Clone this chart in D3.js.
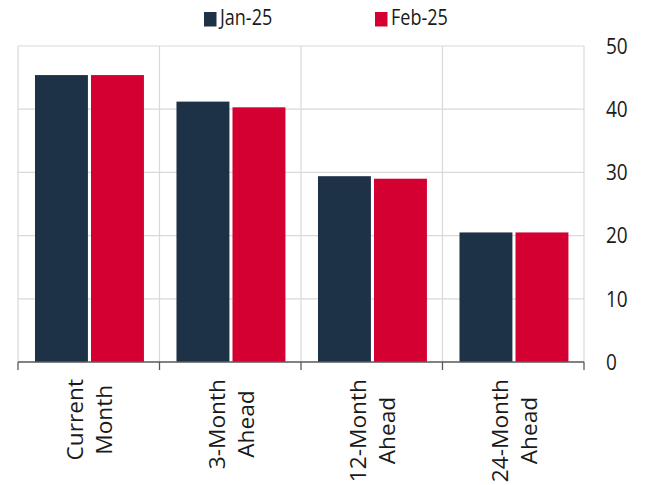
<!DOCTYPE html>
<html>
<head>
<meta charset="utf-8">
<script src="https://cdn.jsdelivr.net/npm/d3@7"></script>
<style>
  body { margin: 0; background: #fff; }
  text { font-family: "Open Sans", sans-serif; fill: #1a1a1a; }
</style>
</head>
<body>
<div id="chart"></div>
<script>
// data
const categories = [["Current", "Month"], ["3-Month", "Ahead"], ["12-Month", "Ahead"], ["24-Month", "Ahead"]];
const seriesNames = ["Jan-25", "Feb-25"];
const jan25 = [45.4, 41.2, 29.4, 20.5];
const feb25 = [45.4, 40.3, 29.0, 20.5];
const yTicks = [0, 10, 20, 30, 40, 50];

const width = 648;
const height = 485;
const plot = {left: 18, right: 584, top: 46, bottom: 362};
const colors = {"Jan-25": "#1e3247", "Feb-25": "#d50032"};

const svg = d3.select("#chart")
              .append("svg")
              .attr("width", width)
              .attr("height", height);

const keys = categories.map(c => c.join(" "));
const x0 = d3.scaleBand().domain(keys).range([plot.left, plot.right]);
const bw = x0.bandwidth();
const x1 = d3.scaleBand().domain(seriesNames).range([bw * 0.12, bw * 0.89]).paddingInner(0.055);
const y = d3.scaleLinear().domain([0, 50]).range([plot.bottom, plot.top]);

// horizontal gridlines
svg.append("g").selectAll("line").data(yTicks.filter(t => t > 0)).enter()
   .append("line")
   .attr("x1", plot.left).attr("x2", plot.right)
   .attr("y1", d => y(d)).attr("y2", d => y(d))
   .attr("stroke", "#d9d9d9").attr("stroke-width", 1.2);

// vertical gridlines at category boundaries
const bounds = keys.map(k => x0(k)).concat([plot.right]);
svg.append("g").selectAll("line").data(bounds).enter()
   .append("line")
   .attr("x1", d => d).attr("x2", d => d)
   .attr("y1", plot.top).attr("y2", plot.bottom)
   .attr("stroke", "#d9d9d9").attr("stroke-width", 1.2);

// bars
const rows = keys.map((k, i) => ({key: k, values: [jan25[i], feb25[i]]}));
const groups = svg.append("g").selectAll("g").data(rows).enter()
   .append("g")
   .attr("transform", d => `translate(${x0(d.key)},0)`);
groups.selectAll("rect").data(d => d.values.map((v, j) => ({name: seriesNames[j], value: v}))).enter()
   .append("rect")
   .attr("x", d => x1(d.name))
   .attr("y", d => y(d.value))
   .attr("width", x1.bandwidth())
   .attr("height", d => y(0) - y(d.value))
   .attr("fill", d => colors[d.name]);

// bottom axis line with ticks at boundaries
const xAxis = svg.append("g").attr("transform", `translate(0,${plot.bottom})`);
xAxis.append("line")
   .attr("x1", plot.left).attr("x2", plot.right)
   .attr("stroke", "#595959").attr("stroke-width", 1.3);
xAxis.selectAll(".tick").data(bounds).enter()
   .append("line")
   .attr("x1", d => d).attr("x2", d => d)
   .attr("y1", 0).attr("y2", 8)
   .attr("stroke", "#595959").attr("stroke-width", 1.3);

// right y-axis labels
svg.append("g").selectAll("text").data(yTicks).enter()
   .append("text")
   .attr("transform", d => `translate(606,${y(d)}) scale(1,1.18)`)
   .attr("dy", "0.35em")
   .attr("font-size", "19px")
   .text(d => d);

// category labels, rotated, two lines each, centred on the longest line
const labelTop = 379;
keys.forEach((k, i) => {
  const cx = x0(k) + bw / 2;
  const texts = categories[i].map((line, j) =>
    svg.append("text")
       .attr("font-size", "21px")
       .attr("text-anchor", "middle")
       .text(line));
  const sx = 1.08;
  const maxLen = d3.max(texts, t => t.node().getComputedTextLength()) * sx;
  texts.forEach((t, j) => {
    const bx = cx + (j === 0 ? -5.5 : 23.5);
    t.attr("transform", `translate(${bx},${labelTop + maxLen / 2}) rotate(-90) scale(${sx},1)`);
  });
});

// legend
const legend = svg.append("g").selectAll("g").data(seriesNames).enter()
   .append("g")
   .attr("transform", (d, i) => `translate(${i === 0 ? 204 : 375},0)`);
legend.append("rect")
   .attr("x", 0).attr("y", 12)
   .attr("width", 12.5).attr("height", 14.5)
   .attr("fill", d => colors[d]);
legend.append("text")
   .attr("transform", "translate(16,25) scale(1,1.16)")
   .attr("font-size", "18px")
   .text(d => d);
</script>
</body>
</html>
